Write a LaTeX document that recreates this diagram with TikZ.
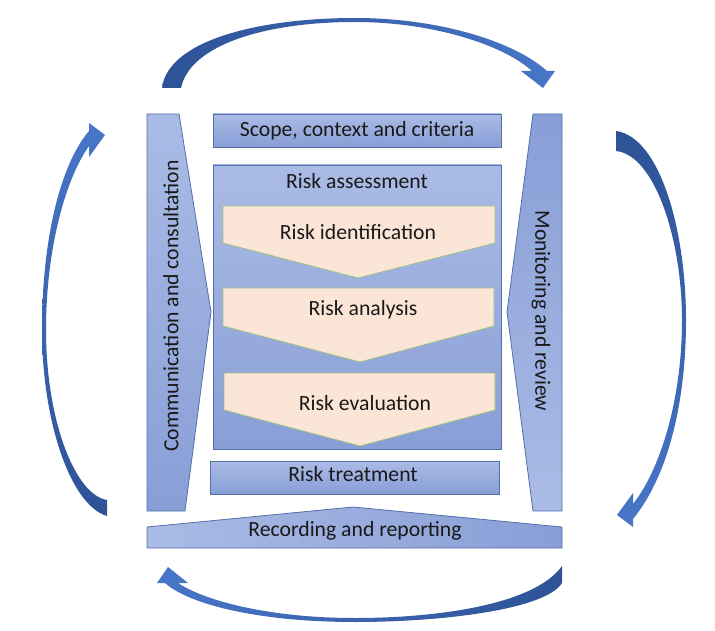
\documentclass[tikz,border=0pt]{standalone}
\usepackage{fontspec}
\setmainfont{Carlito}
\usepackage{tikz}
\usetikzlibrary{positioning}
\definecolor{boxlight}{RGB}{170,187,229}
\definecolor{boxdark}{RGB}{136,158,214}
\definecolor{boxline}{RGB}{82,112,170}
\definecolor{peach}{RGB}{251,229,214}
\definecolor{peachline}{RGB}{160,196,128}
\definecolor{loopdark}{RGB}{45,82,150}
\definecolor{looplight}{RGB}{72,118,200}
\tikzstyle{panel}=[draw=boxline,
line width=0.8pt]
\tikzstyle{stage}=[draw=peachline,
fill=peach,
line width=0.8pt]
\tikzstyle{txt}=[inner sep=0pt,
text=black!90]
\tikzstyle{loop}=[draw=none]

\begin{document}
\begin{tikzpicture}[x=1pt,y=-1pt,font=\fontsize{21.7}{26}\selectfont]
	% One unit is one pixel of the reference, y grows downwards.
	\useasboundingbox (0,0) rectangle (715,631);

	% The two side bars and the bottom bar
	\shadedraw[panel, top color=boxlight, bottom color=boxdark]
	(147,114) -- (179,114) -- (211,312) -- (185,511) -- (147,511) -- cycle;
	\shadedraw[panel, top color=boxdark, bottom color=boxlight]
	(533,114) -- (562,114) -- (562,511) -- (533,511) -- (507,312) -- cycle;
	\shadedraw[panel, left color=boxlight, right color=boxdark]
	(147,548) -- (147,527) -- (353,507) -- (562,527) -- (562,548) -- cycle;

	% Middle column
	\shadedraw[panel, top color=boxlight, bottom color=boxdark]
	(213,114) rectangle (501,147);
	\shadedraw[panel, top color=boxlight, bottom color=boxdark]
	(213,165) rectangle (501,449);
	\shadedraw[panel, top color=boxlight, bottom color=boxdark]
	(210,461) rectangle (499,494);

	% The three steps of the assessment
	\filldraw[stage] (223,206) -- (495,206) -- (495,243) -- (358,278) -- (223,243) -- cycle;
	\filldraw[stage] (223,288) -- (494,288) -- (494,326) -- (360,362) -- (223,326) -- cycle;
	\filldraw[stage] (224,373) -- (495,373) -- (495,410) -- (360,446) -- (224,410) -- cycle;

	% Texts
	\node (scope)      [txt] at (357,131) {Scope, context and criteria};
	\node (assess)     [txt] at (357,181) {Risk assessment};
	\node (ident)      [txt] at (358,232) {Risk identification};
	\node (analysis)   [txt] at (363,310) {Risk analysis};
	\node (evaluation) [txt] at (365,403) {Risk evaluation};
	\node (treatment)  [txt] at (353,474) {Risk treatment};
	\node (recording)  [txt] at (355,531) {Recording and reporting};
	\node (comm)    [txt, rotate=90]  at (171,306) {Communication and consultation};
	\node (monitor) [txt, rotate=-90] at (541,311) {Monitoring and review};

	% The four curved arrows running clockwise round the frame
	\shade[loop, left color=loopdark, right color=looplight]
	(162,88) .. controls (168,40) and (260,18) .. (355,18)
	.. controls (440,18) and (515,42) .. (547,71)
	-- (555,71) -- (543,88) -- (521,71) -- (532,71)
	.. controls (505,46) and (435,22) .. (355,22)
	.. controls (265,22) and (190,45) .. (181,88) -- cycle;
	\shade[loop, top color=loopdark, bottom color=looplight]
	(616,131) .. controls (660,137) and (686,230) .. (686,320)
	.. controls (686,410) and (665,480) .. (633,519)
	-- (633,527) -- (617,515) -- (633,493) -- (633,504)
	.. controls (660,470) and (682,400) .. (682,320)
	.. controls (682,240) and (655,155) .. (616,151) -- cycle;
	\shade[loop, right color=loopdark, left color=looplight]
	(562,583) .. controls (545,610) and (440,622) .. (355,622)
	.. controls (260,622) and (190,605) .. (165,583)
	-- (157,583) -- (168,567) -- (188,583) -- (178,583)
	.. controls (205,601) and (270,618) .. (355,618)
	.. controls (440,618) and (535,604) .. (562,566) -- cycle;
	\shade[loop, bottom color=loopdark, top color=looplight]
	(107,516) .. controls (70,505) and (42,420) .. (42,330)
	.. controls (42,240) and (60,165) .. (89,131)
	-- (89,123) -- (105,135) -- (89,157) -- (89,146)
	.. controls (65,180) and (46,250) .. (46,330)
	.. controls (46,420) and (75,495) .. (107,500) -- cycle;
\end{tikzpicture}
\end{document}
